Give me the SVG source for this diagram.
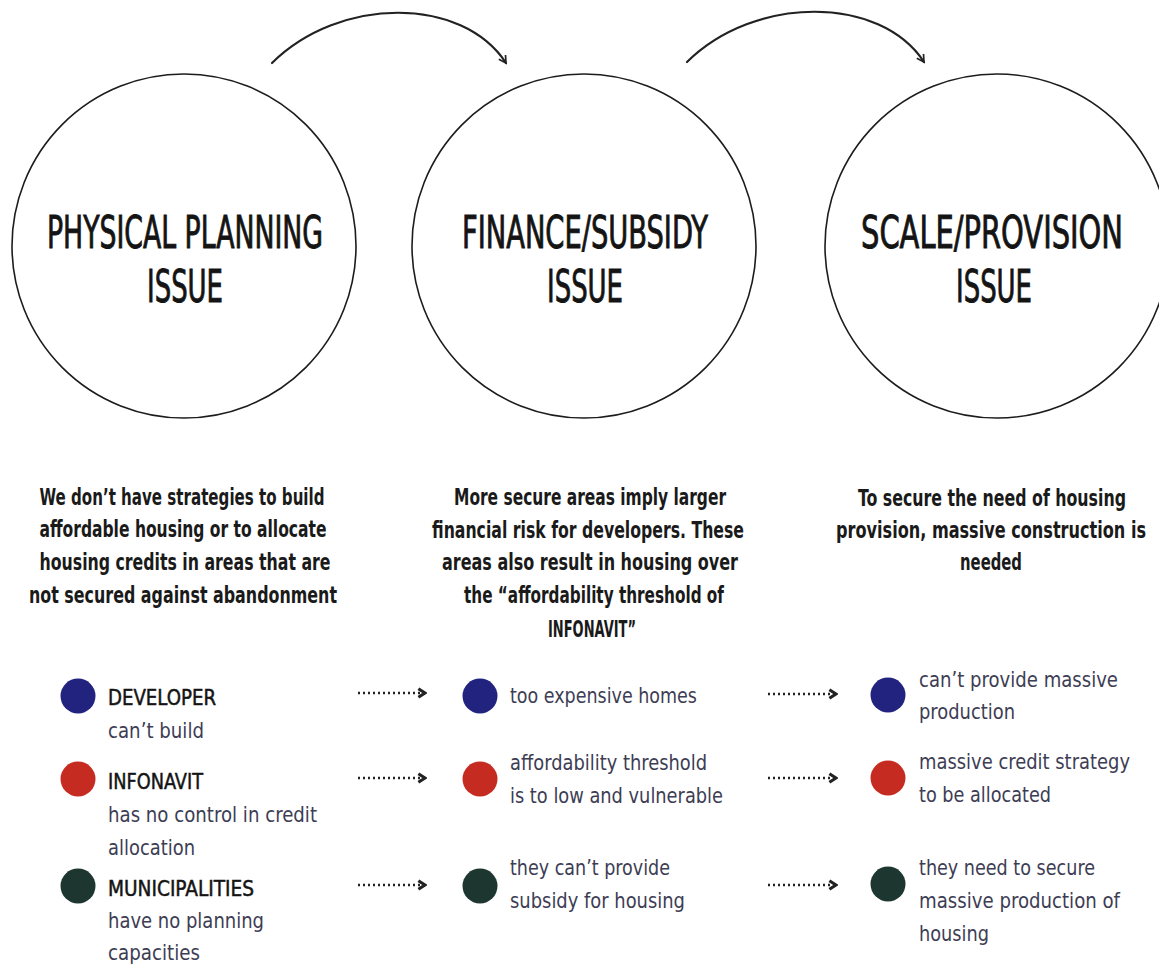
<svg xmlns="http://www.w3.org/2000/svg" width="1159" height="966" viewBox="0 0 1159 966">
  <style>
    .ring { fill: none; stroke: #1c1c1c; stroke-width: 1.6; }
    .title { font-family: "Liberation Sans Narrow", "DejaVu Sans Condensed", "Liberation Sans", sans-serif; font-size: 44px; fill: #141414; stroke: #141414; stroke-width: 0.9; text-anchor: middle; }
    .desc { font-family: "Liberation Sans Narrow", "DejaVu Sans Condensed", "Liberation Sans", sans-serif; font-size: 23px; font-weight: bold; fill: #1a1a1a; text-anchor: middle; }
    .actor { font-family: "Liberation Sans Narrow", "DejaVu Sans Condensed", "Liberation Sans", sans-serif; font-size: 22px; fill: #141414; stroke: #141414; stroke-width: 0.5; }
    .note { font-family: "Liberation Sans Narrow", "DejaVu Sans Condensed", "Liberation Sans", sans-serif; font-size: 22px; fill: #3d3d54; }
    .flow { fill: none; stroke: #222; stroke-width: 2.2; stroke-linecap: round; }
    .dots { fill: none; stroke: #222; stroke-width: 2.4; stroke-dasharray: 2 3; }
    .blue { fill: #22237f; }
    .red { fill: #c62b22; }
    .green { fill: #1d3630; }
  </style>
  <defs>
    <marker id="openHead" viewBox="0 0 10 10" refX="8" refY="5" markerWidth="10" markerHeight="10" markerUnits="userSpaceOnUse" orient="auto">
      <path d="M1,1 L8,5 L1,9" fill="none" stroke="#222" stroke-width="1.7"/>
    </marker>
    <marker id="chev" viewBox="0 0 10 10" refX="8" refY="5" markerWidth="12" markerHeight="12" markerUnits="userSpaceOnUse" orient="auto">
      <path d="M2.5,1.5 L8,5 L2.5,8.5" fill="none" stroke="#222" stroke-width="2.6"/>
    </marker>
  </defs>

  <!-- connectors between the issue circles and between the consequence columns -->
  <g id="connectors">
    <path class="flow" d="M272,63 C340,-4 462,-4 506,63" marker-end="url(#openHead)"/>
    <path class="flow" d="M687,62 C755,-5 880,-5 924,62" marker-end="url(#openHead)"/>
    <path class="dots" d="M358,693 H425" marker-end="url(#chev)"/>
    <path class="dots" d="M358,778 H425" marker-end="url(#chev)"/>
    <path class="dots" d="M358,885 H425" marker-end="url(#chev)"/>
    <path class="dots" d="M768,694 H836" marker-end="url(#chev)"/>
    <path class="dots" d="M768,778 H836" marker-end="url(#chev)"/>
    <path class="dots" d="M768,885 H836" marker-end="url(#chev)"/>
  </g>

  <!-- issue circles -->
  <g id="physical-planning">
    <circle class="ring" cx="184" cy="246" r="172"/>
    <text class="title" x="185" y="248" textLength="276" lengthAdjust="spacingAndGlyphs">PHYSICAL PLANNING</text>
    <text class="title" x="185" y="302" textLength="76" lengthAdjust="spacingAndGlyphs">ISSUE</text>
  </g>
  <g id="finance-subsidy">
    <circle class="ring" cx="584" cy="246" r="172"/>
    <text class="title" x="585" y="248" textLength="246" lengthAdjust="spacingAndGlyphs">FINANCE/SUBSIDY</text>
    <text class="title" x="585" y="302" textLength="76" lengthAdjust="spacingAndGlyphs">ISSUE</text>
  </g>
  <g id="scale-provision">
    <circle class="ring" cx="997" cy="246" r="172"/>
    <text class="title" x="992" y="248" textLength="262" lengthAdjust="spacingAndGlyphs">SCALE/PROVISION</text>
    <text class="title" x="994" y="302" textLength="76" lengthAdjust="spacingAndGlyphs">ISSUE</text>
  </g>

  <!-- issue descriptions -->
  <g id="desc-physical">
    <text class="desc" x="182" y="505" textLength="285" lengthAdjust="spacingAndGlyphs">We don’t have strategies to build</text>
    <text class="desc" x="183" y="537" textLength="287" lengthAdjust="spacingAndGlyphs">affordable housing or to allocate</text>
    <text class="desc" x="185" y="570" textLength="291" lengthAdjust="spacingAndGlyphs">housing credits in areas that are</text>
    <text class="desc" x="183" y="603" textLength="308" lengthAdjust="spacingAndGlyphs">not secured against abandonment</text>
  </g>
  <g id="desc-finance">
    <text class="desc" x="590" y="505" textLength="272" lengthAdjust="spacingAndGlyphs">More secure areas imply larger</text>
    <text class="desc" x="588" y="538" textLength="312" lengthAdjust="spacingAndGlyphs">financial risk for developers. These</text>
    <text class="desc" x="590" y="570" textLength="296" lengthAdjust="spacingAndGlyphs">areas also result in housing over</text>
    <text class="desc" x="594" y="603" textLength="260" lengthAdjust="spacingAndGlyphs">the “affordability threshold of</text>
    <text class="desc" x="592" y="637" textLength="88" lengthAdjust="spacingAndGlyphs">INFONAVIT”</text>
  </g>
  <g id="desc-scale">
    <text class="desc" x="992" y="506" textLength="268" lengthAdjust="spacingAndGlyphs">To secure the need of housing</text>
    <text class="desc" x="991" y="538" textLength="310" lengthAdjust="spacingAndGlyphs">provision, massive construction is</text>
    <text class="desc" x="991" y="570" textLength="62" lengthAdjust="spacingAndGlyphs">needed</text>
  </g>

  <!-- actors -->
  <g id="developer">
    <circle class="blue" cx="78" cy="696" r="17.5"/>
    <text class="actor" x="108" y="705" textLength="108" lengthAdjust="spacingAndGlyphs">DEVELOPER</text>
    <text class="note" x="108" y="738" textLength="96" lengthAdjust="spacingAndGlyphs">can’t build</text>
  </g>
  <g id="infonavit">
    <circle class="red" cx="78" cy="779" r="17.5"/>
    <text class="actor" x="108" y="789" textLength="95" lengthAdjust="spacingAndGlyphs">INFONAVIT</text>
    <text class="note" x="108" y="822" textLength="209" lengthAdjust="spacingAndGlyphs">has no control in credit</text>
    <text class="note" x="108" y="855" textLength="87" lengthAdjust="spacingAndGlyphs">allocation</text>
  </g>
  <g id="municipalities">
    <circle class="green" cx="78" cy="886" r="17.5"/>
    <text class="actor" x="108" y="896" textLength="146" lengthAdjust="spacingAndGlyphs">MUNICIPALITIES</text>
    <text class="note" x="108" y="928" textLength="156" lengthAdjust="spacingAndGlyphs">have no planning</text>
    <text class="note" x="108" y="960" textLength="92" lengthAdjust="spacingAndGlyphs">capacities</text>
  </g>

  <!-- finance column consequences -->
  <g id="expensive-homes">
    <circle class="blue" cx="480" cy="696" r="17.5"/>
    <text class="note" x="510" y="703" textLength="187" lengthAdjust="spacingAndGlyphs">too expensive homes</text>
  </g>
  <g id="low-threshold">
    <circle class="red" cx="480" cy="779" r="17.5"/>
    <text class="note" x="510" y="770" textLength="197" lengthAdjust="spacingAndGlyphs">affordability threshold</text>
    <text class="note" x="510" y="803" textLength="213" lengthAdjust="spacingAndGlyphs">is to low and vulnerable</text>
  </g>
  <g id="no-subsidy">
    <circle class="green" cx="480" cy="886" r="17.5"/>
    <text class="note" x="510" y="875" textLength="160" lengthAdjust="spacingAndGlyphs">they can’t provide</text>
    <text class="note" x="510" y="908" textLength="175" lengthAdjust="spacingAndGlyphs">subsidy for housing</text>
  </g>

  <!-- scale column consequences -->
  <g id="no-massive-production">
    <circle class="blue" cx="888" cy="695" r="17.5"/>
    <text class="note" x="919" y="687" textLength="199" lengthAdjust="spacingAndGlyphs">can’t provide massive</text>
    <text class="note" x="919" y="719" textLength="96" lengthAdjust="spacingAndGlyphs">production</text>
  </g>
  <g id="credit-strategy">
    <circle class="red" cx="888" cy="778" r="17.5"/>
    <text class="note" x="919" y="769" textLength="211" lengthAdjust="spacingAndGlyphs">massive credit strategy</text>
    <text class="note" x="919" y="802" textLength="132" lengthAdjust="spacingAndGlyphs">to be allocated</text>
  </g>
  <g id="secure-production">
    <circle class="green" cx="888" cy="884" r="17.5"/>
    <text class="note" x="919" y="875" textLength="176" lengthAdjust="spacingAndGlyphs">they need to secure</text>
    <text class="note" x="919" y="908" textLength="201" lengthAdjust="spacingAndGlyphs">massive production of</text>
    <text class="note" x="919" y="941" textLength="70" lengthAdjust="spacingAndGlyphs">housing</text>
  </g>
</svg>
